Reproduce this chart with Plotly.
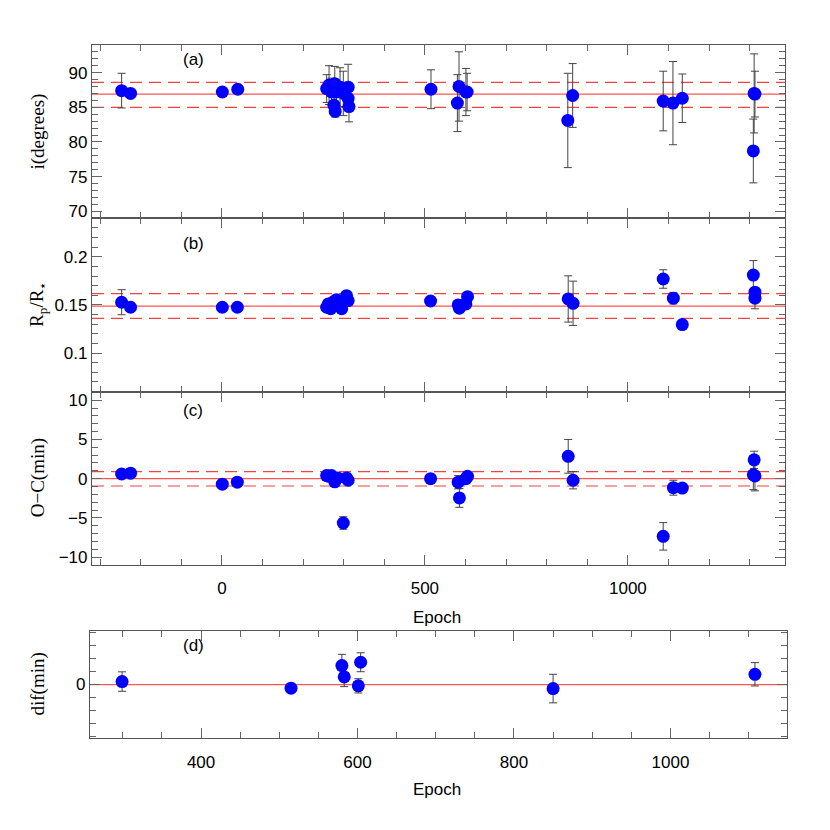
import plotly.graph_objects as go

# panel (a): inclination
epoch_a = [-247, -225, 1, 39, 258, 264, 270, 278, 282, 276, 279, 291, 299, 311, 311, 313,
           515, 580, 584, 601, 604, 852, 864, 1087, 1111, 1134, 1309, 1311, 1313]
inc = [87.4, 87.0, 87.2, 87.6, 87.7, 88.2, 87.2, 88.4, 87.2, 85.3, 84.4, 87.9, 87.0, 87.9, 86.3, 85.1,
       87.6, 85.6, 88.0, 87.2, 87.2, 83.1, 86.7, 85.9, 85.6, 86.3, 78.7, 87.0, 86.9]
inc_err = [2.5, 0.5, 0.5, 0.5, 2.0, 2.8, 2.0, 2.5, 1.5, 1.2, 0.8, 2.8, 3.2, 3.3, 1.5, 2.2,
           2.8, 4.1, 5.0, 3.4, 2.7, 6.8, 4.6, 4.3, 6.0, 3.5, 4.6, 5.7, 3.3]
inc_lines = [86.9, 88.6, 85.0]  # mean, upper, lower

# panel (b): Rp/R*
epoch_b = [-247, -225, 1, 38, 258, 262, 268, 274, 282, 291, 295, 299, 307, 311,
           514, 582, 585, 601, 605, 853, 865, 1087, 1112, 1134, 1309, 1313, 1313]
rp = [0.1528, 0.1476, 0.1476, 0.1476, 0.1476, 0.151, 0.146, 0.153, 0.1555, 0.149, 0.146, 0.153, 0.1596, 0.1545,
      0.1541, 0.150, 0.1466, 0.151, 0.1586, 0.1562, 0.1517, 0.1769, 0.157, 0.1296, 0.181, 0.1632, 0.157]
rp_err = [0.013, 0.002, 0.002, 0.002, 0.002, 0.002, 0.002, 0.003, 0.004, 0.002, 0.002, 0.003, 0.002, 0.003,
          0.002, 0.002, 0.004, 0.002, 0.002, 0.024, 0.023, 0.0096, 0.006, 0.002, 0.015, 0.004, 0.011]
rp_lines = [0.1488, 0.1617, 0.136]

# panel (c): O-C
epoch_c = [-247, -225, 1, 38, 258, 264, 270, 278, 285, 299, 307, 311,
           514, 582, 585, 601, 605, 853, 865, 1087, 1112, 1134, 1309, 1311, 1313]
oc = [0.6, 0.7, -0.7, -0.45, 0.4, 0.3, 0.4, -0.4, 0.1, -5.65, 0.1, -0.2,
      0.0, -0.45, -2.45, 0.0, 0.3, 2.85, -0.2, -7.35, -1.15, -1.2, 0.5, 2.4, 0.35]
oc_err = [0.2, 0.2, 0.2, 0.2, 0.2, 0.2, 0.2, 0.3, 0.2, 0.8, 0.2, 0.2,
          0.2, 0.85, 1.2, 0.6, 0.6, 2.15, 1.1, 1.75, 0.95, 0.2, 1.9, 1.1, 1.9]
oc_lines = [0.0, 0.9, -0.93]

# panel (d): difference
epoch_d = [299, 515, 580, 583, 601, 604, 850, 1108]
dif = [0.23, -0.28, 1.46, 0.59, -0.1, 1.72, -0.31, 0.79]
dif_err = [0.75, 0.3, 0.87, 0.75, 0.55, 0.73, 1.1, 0.9]

W = H = 830
OFF = 8  # page body margin shifts the figure by 8px


def fx(p):
    return (p - OFF) / W


def fy(p):
    return 1 - (p - OFF) / H


XDOM = [fx(92), fx(785)]
XDOM_D = [fx(90), fx(787)]


def ydom(top, bottom):
    return [fy(bottom), fy(top)]


panels = [
    (epoch_a, inc, inc_err, ydom(45, 219)),
    (epoch_b, rp, rp_err, ydom(219, 393)),
    (epoch_c, oc, oc_err, ydom(393, 567)),
    (epoch_d, dif, dif_err, ydom(633, 741)),
]

fig = go.Figure()
for k, (ex, ey, ee, yd) in enumerate(panels, start=1):
    sfx = "" if k == 1 else str(k)
    fig.add_trace(go.Scatter(
        x=ex, y=ey, mode="markers",
        marker=dict(color="#0000ff", size=13),
        error_y=dict(type="data", array=ee, color="#444444", thickness=1, width=4),
        xaxis="x" + sfx, yaxis="y" + sfx, showlegend=False,
    ))

axis_common = dict(
    showline=True, linecolor="#555555", linewidth=1.2, mirror="allticks",
    ticks="inside", ticklen=10, tickcolor="#666666", tickwidth=1,
    showgrid=False, zeroline=False,
    tickfont=dict(family="Liberation Sans, Arial", size=17, color="#000000"),
)

xmain = dict(range=[-320, 1387], dtick=500, tick0=0,
             minor=dict(ticks="inside", ticklen=6, dtick=100, tick0=0, tickcolor="#666666"))

layout = dict(
    width=W, height=H, margin=dict(l=0, r=0, t=0, b=0),
    paper_bgcolor="white", plot_bgcolor="white",
    xaxis=dict(**axis_common, **xmain, domain=XDOM, anchor="y", showticklabels=False),
    yaxis=dict(**axis_common, domain=panels[0][3], anchor="x", range=[69, 94],
               tickvals=[70, 75, 80, 85, 90],
               minor=dict(ticks="inside", ticklen=6, dtick=1, tick0=0, tickcolor="#666666")),
    xaxis2=dict(**axis_common, **xmain, domain=XDOM, anchor="y2", showticklabels=False),
    yaxis2=dict(**axis_common, domain=panels[1][3], anchor="x2", range=[0.06, 0.24],
                tickvals=[0.1, 0.15, 0.2], ticktext=["0.1", "0.15", "0.2"],
                minor=dict(ticks="inside", ticklen=6, dtick=0.01, tick0=0, tickcolor="#666666")),
    xaxis3=dict(**axis_common, **xmain, domain=XDOM, anchor="y3", ticklabelstandoff=8),
    yaxis3=dict(**axis_common, domain=panels[2][3], anchor="x3", range=[-11, 11.1],
                tickvals=[-10, -5, 0, 5, 10],
                minor=dict(ticks="inside", ticklen=6, dtick=1, tick0=0, tickcolor="#666666")),
    xaxis4=dict(**axis_common, domain=XDOM_D, anchor="y4", range=[258, 1149],
                tickvals=[400, 600, 800, 1000], ticklabelstandoff=8,
                minor=dict(ticks="inside", ticklen=6, dtick=50, tick0=0, tickcolor="#666666")),
    yaxis4=dict(**axis_common, domain=panels[3][3], anchor="x4", range=[-4.15, 4.15],
                tickvals=[0],
                minor=dict(ticks="inside", ticklen=6, dtick=1, tick0=0, tickcolor="#666666")),
)
fig.update_layout(**layout)

# reference lines: solid mean, dashed bounds
for sfx, vals in [("", inc_lines), ("2", rp_lines), ("3", oc_lines), ("4", [0.0])]:
    for j, v in enumerate(vals):
        fig.add_shape(type="line", xref="x" + sfx + " domain", yref="y" + sfx,
                      x0=0, x1=1, y0=v, y1=v, layer="below",
                      line=dict(color="#ff5555" if j == 0 else "#ee4444",
                                width=1.2, dash="solid" if j == 0 else "12px,7px"))

serif = dict(family="Liberation Serif, DejaVu Serif", size=19, color="#000000")
sans = dict(family="Liberation Sans, Arial", size=17, color="#000000")

ytitles = [("i(degrees)", 132), ("R<sub>p</sub>/R<sub>⋆</sub>", 306),
           ("O−C(min)", 480), ("dif(min)", 687)]
for txt, ypix in ytitles:
    fig.add_annotation(text=txt, xref="paper", yref="paper", x=fx(38), y=fy(ypix),
                       textangle=-90, showarrow=False, font=serif,
                       xanchor="center", yanchor="middle")

for txt, xpix, ypix in [("(a)", 193, 60), ("(b)", 193, 244), ("(c)", 193, 412), ("(d)", 193, 648)]:
    fig.add_annotation(text=txt, xref="paper", yref="paper", x=fx(xpix), y=fy(ypix),
                       showarrow=False, font=sans, xanchor="center", yanchor="middle")

for ypix in [620, 792]:
    fig.add_annotation(text="Epoch", xref="paper", yref="paper", x=fx(437), y=fy(ypix),
                       showarrow=False, font=sans, xanchor="center", yanchor="middle")

fig.write_html("out.html")
